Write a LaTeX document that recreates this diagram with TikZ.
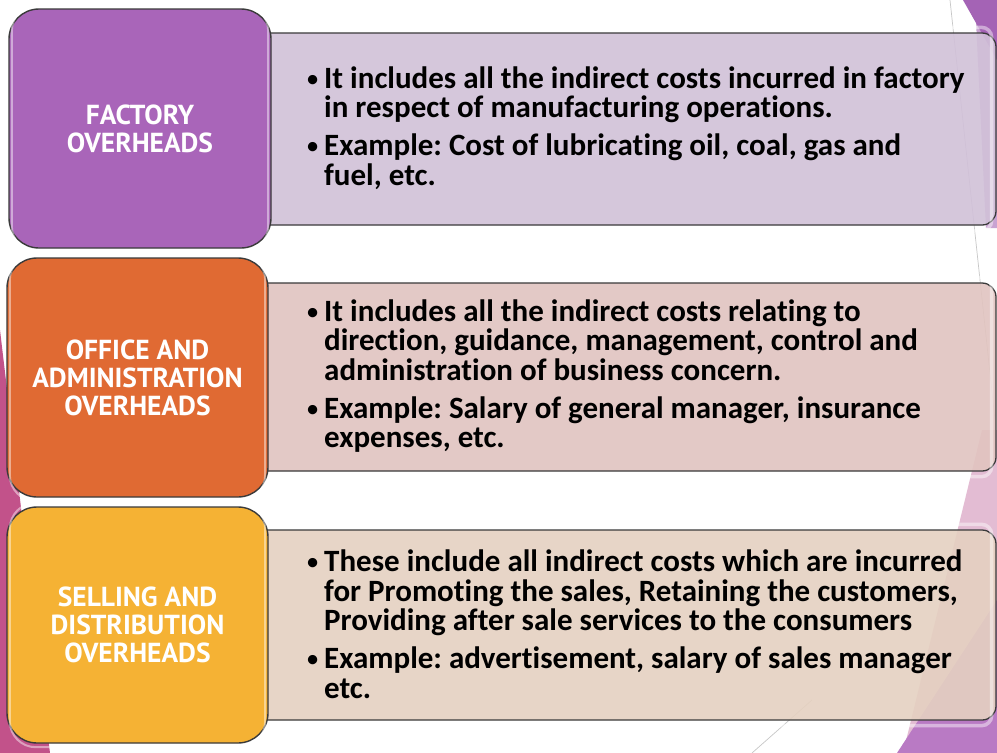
\documentclass[tikz,border=0pt]{standalone}
\usepackage{fontspec}
\setmainfont{Carlito}[Ligatures=NoCommon]
\newfontfamily\headfont{PT Sans}
\newcommand\bitem[1]{\par\hangindent=18pt\hangafter=1\noindent\makebox[18pt][l]{\mdseries\raisebox{1pt}{\scalebox{0.85}{\textbullet}}}#1}
\definecolor{edge}{HTML}{3A3A3A}
\definecolor{purpleA}{HTML}{A965B9}
\definecolor{orangeA}{HTML}{E06A33}
\definecolor{yellowA}{HTML}{F5B234}
\definecolor{lilacB}{HTML}{D1C1D8}
\definecolor{roseB}{HTML}{E1C4C0}
\definecolor{sandB}{HTML}{E5D1C1}
\definecolor{magentaS}{HTML}{C2528A}
\definecolor{pinkS}{HTML}{E3BCD3}
\definecolor{violetS}{HTML}{B97AC4}
\definecolor{violetT}{HTML}{A463B5}
\definecolor{violetL}{HTML}{C9A3D2}
\begin{document}
\begin{tikzpicture}[x=1pt,y=-1pt,
  labelbox/.style={draw=edge,line width=1.4pt,rounded corners=30pt,
    minimum width=#1,inner sep=0pt},
  detailbox/.style={draw=edge,line width=1.3pt,rounded corners=14pt,
    fill opacity=0.9,draw opacity=1,inner sep=0pt},
  headtext/.style={text=white,align=center,font=\headfont\bfseries\fontsize{27.5}{28}\selectfont},
  bodytext/.style={anchor=west,inner sep=0pt,text=black},
  bodyfont/.style={font=\bfseries\fontsize{31}{29.5}\selectfont},
  guide/.style={draw=black!22,line width=0.7pt}]
\useasboundingbox (0,0) rectangle (997,753);
\fill[white] (0,0) rectangle (997,753);

% slide decoration behind the boxes
\fill[magentaS] (0,330) -- (50,753) -- (0,753) -- cycle;
\fill[violetL] (975,0) -- (997,0) -- (997,228) -- (986,228) -- cycle;
\fill[violetT] (963,0) -- (997,0) -- (997,60) -- cycle;
\fill[pinkS] (982,430) -- (997,430) -- (997,753) -- (903,753) -- cycle;
\fill[violetS] (997,600) -- (997,753) -- (897,753) -- cycle;
\coordinate (g1a) at (950,0);
\coordinate (g1b) at (995,420);
\coordinate (g2a) at (752,753);
\coordinate (g2b) at (812,700);
\draw[guide] (g1a) -- (g1b);
\draw[guide] (g2a) -- (g2b);

% detail panels
\node[detailbox,fill=lilacB,minimum width=756pt,minimum height=192pt] (det1) at (618,129) {};
\node[detailbox,fill=roseB,minimum width=756pt,minimum height=188pt] (det2) at (618,377) {};
\node[detailbox,fill=sandB,minimum width=756pt,minimum height=190pt] (det3) at (618,625) {};
\foreach \d in {det1,det2,det3}{
  \draw[white,line width=3.5pt,opacity=0.45,rounded corners=10pt]
    ([shift={(5pt,-5pt)}]\d.south west) rectangle ([shift={(-5pt,5pt)}]\d.north east);
}

% heading tiles
\node[labelbox=262pt,fill=purpleA,minimum height=239pt] (lab1) at (140,128.5) {};
\node[labelbox=261pt,fill=orangeA,minimum height=239pt] (lab2) at (137.5,377.5) {};
\node[labelbox=261pt,fill=yellowA,minimum height=236pt] (lab3) at (137.5,625) {};
\foreach \l in {lab1,lab2,lab3}{
  \draw[white,line width=2pt,opacity=0.45,rounded corners=26pt]
    ([shift={(3.5pt,-3.5pt)}]\l.south west) rectangle ([shift={(-3.5pt,3.5pt)}]\l.north east);
}
\node[headtext] (h1) at (lab1.center) {FACTORY\\OVERHEADS};
\node[headtext] (h2) at (lab2.center) {OFFICE AND\\ADMINISTRATION\\OVERHEADS};
\node[headtext] (h3) at (lab3.center) {SELLING AND\\DISTRIBUTION\\OVERHEADS};

% bullet texts
\node[bodytext,bodyfont] (t1) at (306,128) {\parbox{690pt}{\frenchspacing\setlength\parskip{8.5pt}%
  \bitem{It includes all the indirect costs incurred in factory\newline in respect of manufacturing operations.}
  \bitem{Example: Cost of lubricating oil, coal, gas and\newline fuel, etc.}\par}};
\node[bodytext,bodyfont] (t2) at (306,376) {\parbox{690pt}{\frenchspacing\setlength\parskip{8.5pt}%
  \bitem{It includes all the indirect costs relating to\newline direction, guidance, management, control and\newline administration of business concern.}
  \bitem{Example: Salary of general manager, insurance\newline expenses, etc.}\par}};
\node[bodytext,bodyfont] (t3) at (306,624) {\parbox{690pt}{\frenchspacing\setlength\parskip{8.5pt}%
  \bitem{These include all indirect costs which are incurred\newline for Promoting the sales, Retaining the customers,\newline Providing after sale services to the consumers}
  \bitem{Example: advertisement, salary of sales manager\newline etc.}\par}};
\end{tikzpicture}
\end{document}
